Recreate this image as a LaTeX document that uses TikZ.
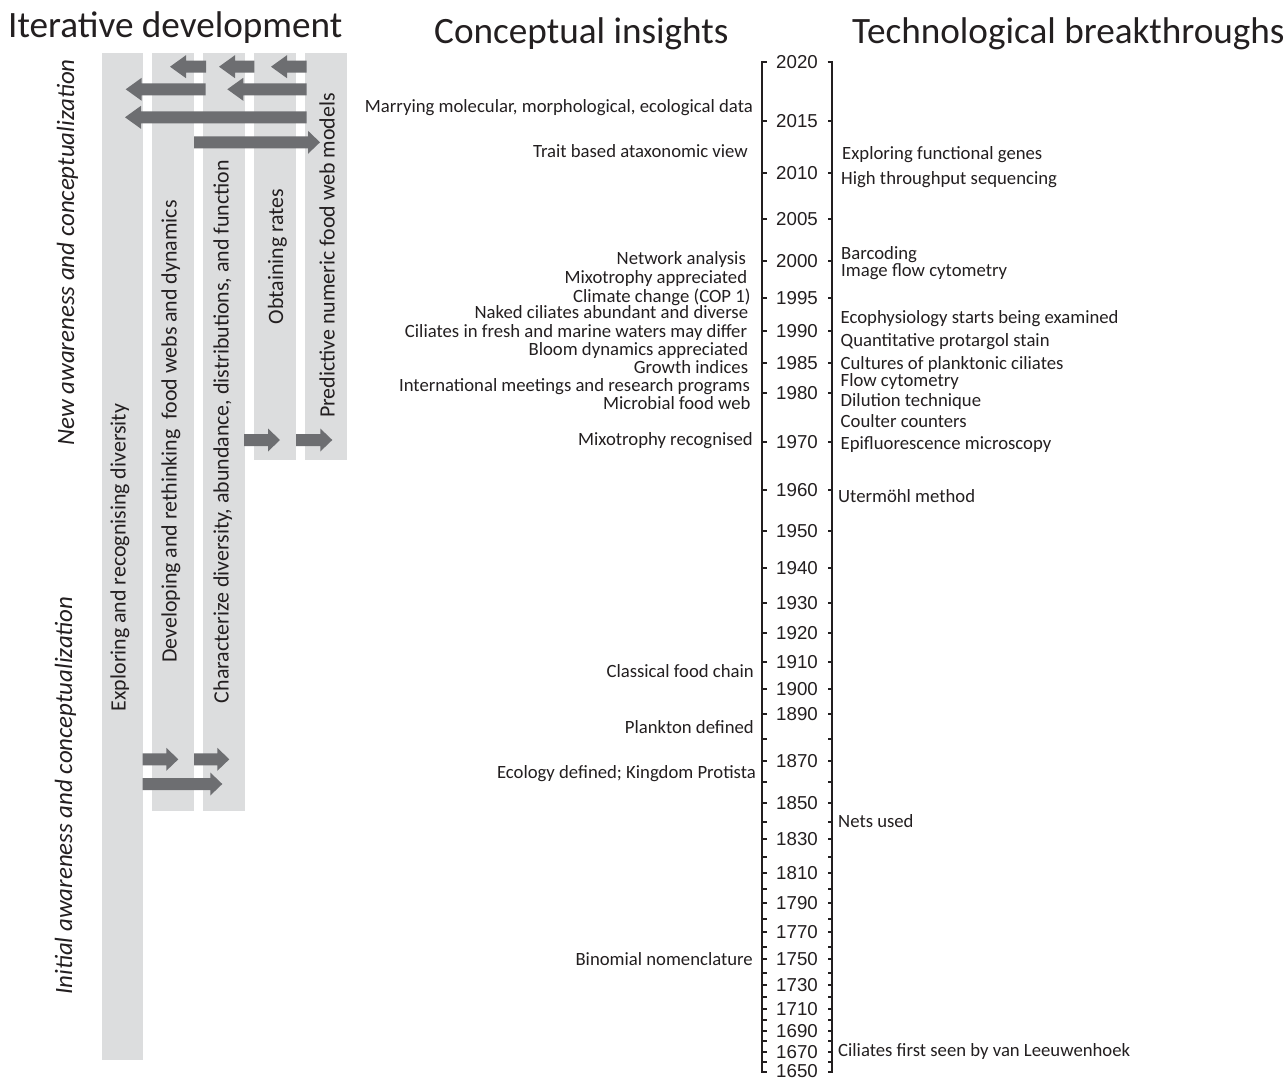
\documentclass[tikz,border=0pt]{standalone}
\usepackage{fontspec}
\setmainfont{Carlito}
\newfontfamily\axisfont{Liberation Sans}
\definecolor{colgray}{HTML}{DCDDDE}
\definecolor{arrgray}{HTML}{6D6E71}
\definecolor{ink}{HTML}{231F20}
\newcommand\blkarrow[4]{%
  \coordinate (#1t) at (#2,#4);
  \coordinate (#1h) at (#3,#4);
  \pgfmathsetmacro\hb{#3+((#2>#3)?16:-12)}%
  \fill[arrgray] (#1t) ++(0,-6) -- (\hb,#4-6) -- (\hb,#4-11.5) -- (#1h) -- (\hb,#4+11.5) -- (\hb,#4+6) -- ($(#1t)+(0,6)$) -- cycle;}
\usetikzlibrary{calc}
\begin{document}
\begin{tikzpicture}[x=1pt,y=-1pt,
  colbox/.style={fill=colgray,draw=none},
  coltext/.style={rotate=90,anchor=base,inner sep=0pt,text=ink,font=\fontsize{21.9}{25}\selectfont},
  sidetext/.style={rotate=90,anchor=base,inner sep=0pt,text=ink,font=\fontsize{24.9}{28}\selectfont\itshape},
  titletext/.style={anchor=base west,inner sep=0pt,text=ink,font=\fontsize{37.2}{42}\selectfont},
  concept/.style={anchor=base east,inner sep=0pt,text=ink,font=\fontsize{18.7}{22}\selectfont},
  tech/.style={anchor=base west,inner sep=0pt,text=ink,font=\fontsize{18.7}{22}\selectfont},
  yearlbl/.style={anchor=base,inner sep=0pt,text=ink,font=\axisfont\fontsize{18.7}{22}\selectfont},
  axisline/.style={draw=ink,line width=1.2pt}]
\useasboundingbox (0,0) rectangle (1287,1081);
\fill[white] (0,0) rectangle (1287,1081);

% titles
\node[titletext] (tIter) at (8,37.3) {Iterative development};
\node[titletext] (tConc) at (434,44) {Conceptual insights};
\node[titletext] (tTech) at (852,44) {Technological breakthroughs};

% columns
\fill[colbox] (101.7,52.7) rectangle (142.7,1060);
\fill[colbox] (152,52.7) rectangle (194,810.7);
\fill[colbox] (203,52.7) rectangle (244.7,810.7);
\fill[colbox] (254,52.7) rectangle (295.7,460);
\fill[colbox] (305,52.7) rectangle (346.7,460);

% column texts
\node[coltext] (c1) at (125.5,557.5) {Exploring and recognising diversity};
\node[coltext] (c2) at (176.5,431.5) {Developing and rethinking~ food webs and dynamics};
\node[coltext] (c3) at (228.5,431.5) {Characterize diversity, abundance, distributions, and function};
\node[coltext] (c4) at (283,256.5) {Obtaining rates};
\node[coltext] (c5) at (334.5,255.5) {Predictive numeric food web models};

% side labels
\node[sidetext] (sNew) at (74,252.5) {New awareness and conceptualization};
\node[sidetext] (sIni) at (72,795.5) {Initial awareness and conceptualization};

% block arrows
\blkarrow{a}{206}{170}{66.7}
\blkarrow{b}{254.3}{219}{66.7}
\blkarrow{c}{306.7}{271}{66.7}
\blkarrow{d}{205.7}{125.7}{89.3}
\blkarrow{e}{306.7}{227.3}{89.3}
\blkarrow{f}{306.7}{125}{117.3}
\blkarrow{g}{194}{320}{142.3}
\blkarrow{h}{244}{280}{440}
\blkarrow{i}{296}{332.3}{440}
\blkarrow{j}{142.7}{178.3}{759.3}
\blkarrow{k}{194}{229.3}{759.3}
\blkarrow{l}{142.7}{222.3}{784}

% axis
\draw[axisline] (766.5,62) -- (762,62) -- (762,1072) -- (766.5,1072);
\draw[axisline] (827.5,62) -- (832,62) -- (832,1072) -- (827.5,1072);
\foreach \yy in {121,173,219,261,298,331,363,393,442,490,531,568,603,633,662,689,714,739,761,782,803,822,839,857,873,889,903,919,932,947,959,973,985,997,1009,1020,1031,1041,1052,1062}{
  \draw[axisline] (762,\yy) -- ++(4.5,0);
  \draw[axisline] (832,\yy) -- ++(-4.5,0);
}
\foreach \yr/\yy in {2020/62,2015/121,2010/173,2005/219,2000/261,1995/298,1990/331,1985/363,1980/393,1970/442,1960/490,1950/531,1940/568,1930/603,1920/633,1910/662,1900/689,1890/714,1870/761,1850/803,1830/839,1810/873,1790/903,1770/932,1750/959,1730/985,1710/1009,1690/1031,1670/1052,1650/1071}{
  \node[yearlbl] (yr\yr) at (797,\yy+6.6) {\yr};
}

% conceptual insights
\node[concept] (k1) at (753,112.5) {Marrying molecular, morphological, ecological data};
\node[concept] (k2) at (748,157) {Trait based ataxonomic view};
\node[concept] (k3) at (746,264.5) {Network analysis};
\node[concept] (k4) at (747.3,283) {Mixotrophy appreciated};
\node[concept] (k5) at (750.7,302.3) {Climate change (COP 1)};
\node[concept] (k6) at (748.3,318.5) {Naked ciliates abundant and diverse};
\node[concept] (k7) at (747.3,337) {Ciliates in fresh and marine waters may differ};
\node[concept] (k8) at (748.3,355.3) {Bloom dynamics appreciated};
\node[concept] (k9) at (748.3,373) {Growth indices};
\node[concept] (k10) at (750,391.3) {International meetings and research programs};
\node[concept] (k11) at (750.7,409.6) {Microbial food web};
\node[concept] (k12) at (753,445.5) {Mixotrophy recognised};
\node[concept] (k13) at (754,677.5) {Classical food chain};
\node[concept] (k14) at (754,733.5) {Plankton defined};
\node[concept] (k15) at (756,778.5) {Ecology defined; Kingdom Protista};
\node[concept] (k16) at (753,965.5) {Binomial nomenclature};

% technological breakthroughs
\node[tech] (b1) at (842,159.5) {Exploring functional genes};
\node[tech] (b2) at (841,184.5) {High throughput sequencing};
\node[tech] (b3) at (841,259.6) {Barcoding};
\node[tech] (b4) at (841,276.3) {Image flow cytometry};
\node[tech] (b5) at (840.5,323) {Ecophysiology starts being examined};
\node[tech] (b6) at (840.5,346.3) {Quantitative protargol stain};
\node[tech] (b7) at (840.5,369) {Cultures of planktonic ciliates};
\node[tech] (b8) at (840.5,386.3) {Flow cytometry};
\node[tech] (b9) at (840.5,406.3) {Dilution technique};
\node[tech] (b10) at (840.5,427.3) {Coulter counters};
\node[tech] (b11) at (840.5,449.6) {Epifluorescence microscopy};
\node[tech] (b12) at (838,502.5) {Utermöhl method};
\node[tech] (b13) at (838,827.5) {Nets used};
\node[tech] (b14) at (838,1056.5) {Ciliates first seen by van Leeuwenhoek};
\end{tikzpicture}
\end{document}
